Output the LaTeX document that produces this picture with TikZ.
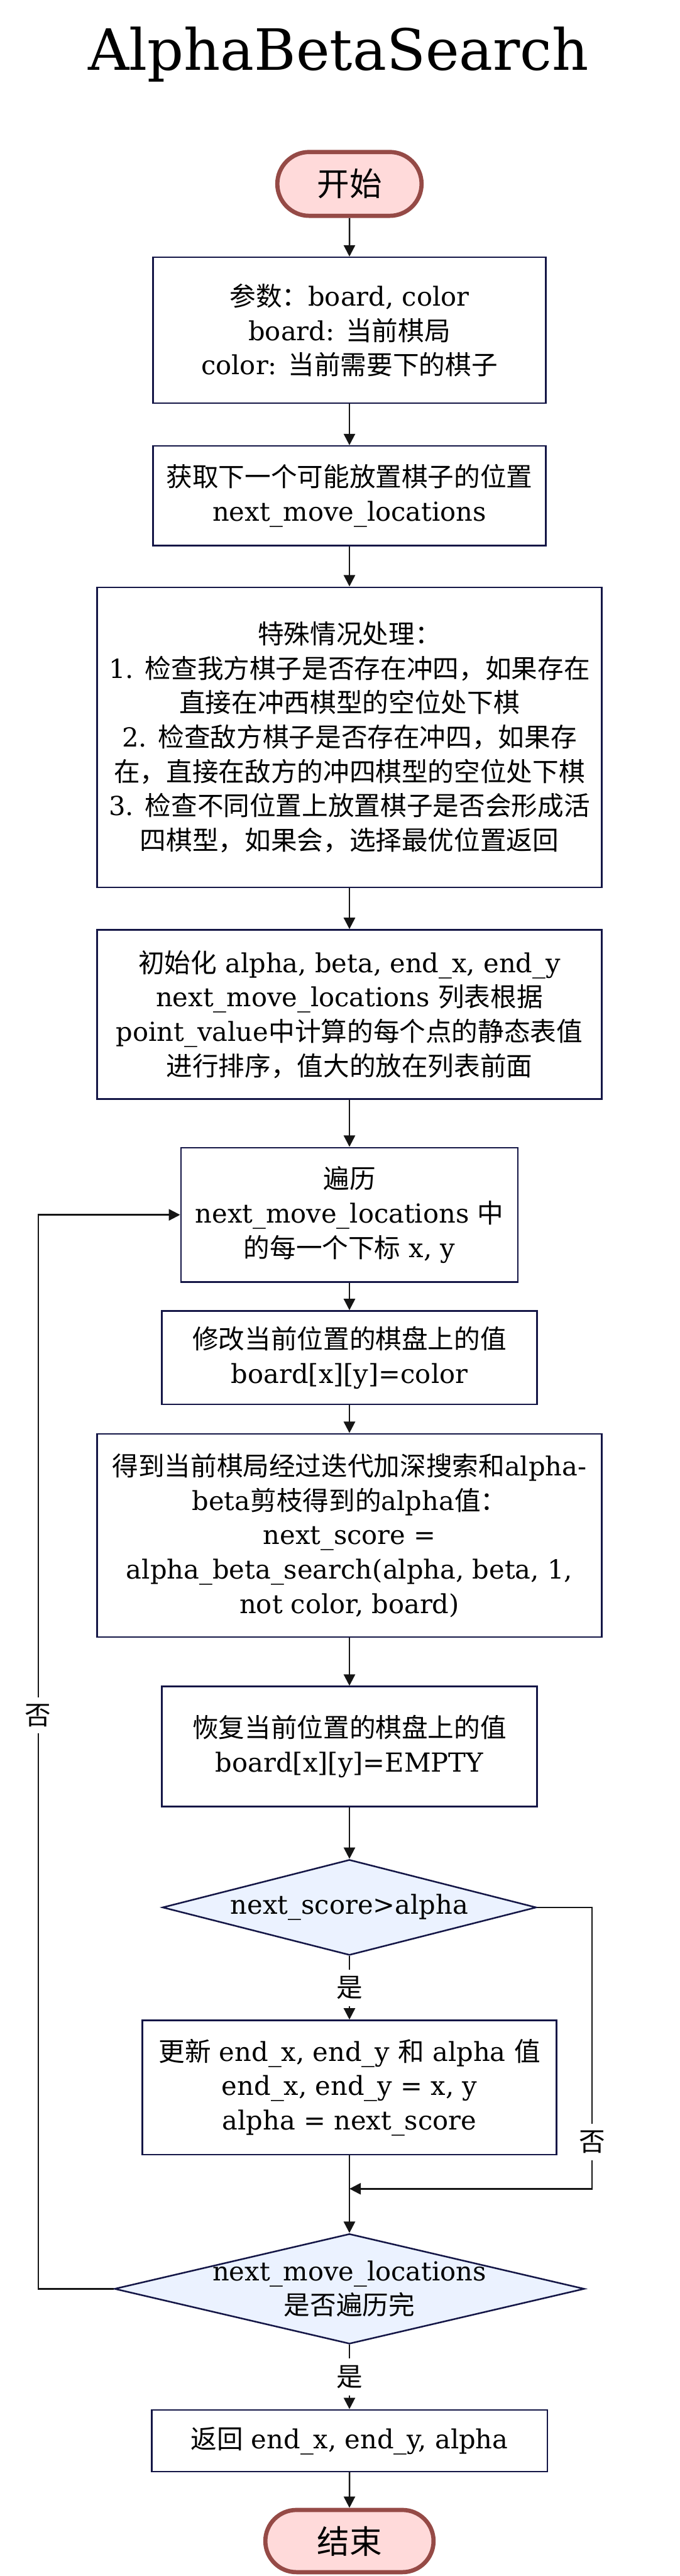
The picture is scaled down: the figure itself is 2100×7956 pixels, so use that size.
\documentclass[tikz,border=0pt]{standalone}
\usepackage{fontspec}
\setmainfont{DejaVu Serif}
\newfontfamily\cjk{Noto Sans CJK SC}
\newcommand\zh[1]{{\cjk #1}}
\usetikzlibrary{arrows.meta,shapes.geometric,shapes.misc}
\definecolor{termfill}{HTML}{FFDADA}
\definecolor{termline}{HTML}{954A46}
\definecolor{boxline}{HTML}{141646}
\definecolor{decfill}{HTML}{EBF2FF}
\definecolor{flowline}{HTML}{151515}

\begin{document}
\begin{tikzpicture}[x=0.01cm,y=-0.01cm,
  every node/.style={align=center,font=\fontsize{23}{30.2}\selectfont},
  terminal/.style={rounded rectangle,draw=termline,fill=termfill,line width=3.7pt,
    font=\fontsize{28.5}{34}\selectfont},
  process/.style={rectangle,draw=boxline,line width=1.4pt,inner sep=0pt},
  decision/.style={diamond,draw=boxline,fill=decfill,line width=1.4pt,aspect=4,
    inner xsep=0pt,inner ysep=-0.6cm},
  flow/.style={draw=flowline,line width=1.35pt,-{Triangle[length=10pt,width=10pt]}},
  branch/.style={fill=white,inner xsep=2pt,inner ysep=6pt}]
  \useasboundingbox (0,0) rectangle (2100,7956);

  \node[font=\fontsize{50}{60}\selectfont,anchor=base] (title) at (1046,217) {AlphaBetaSearch};

  \node[terminal,minimum width=4.69cm,minimum height=1.97cm] (start) at (1080,568) {\zh{开始}};
  \node[process,minimum width=12.14cm,minimum height=4.5cm] (params) at (1080,1020)
    {\zh{参数：}board, color\\board: \zh{当前棋局}\\color: \zh{当前需要下的棋子}};
  \node[process,minimum width=12.14cm,minimum height=3.07cm] (getmoves) at (1080,1531)
    {\zh{获取下一个可能放置棋子的位置}\\next\_move\_locations};
  \node[process,minimum width=15.59cm,minimum height=9.26cm] (special) at (1080,2277)
    {\zh{特殊情况处理：}\\1. \zh{检查我方棋子是否存在冲四，如果存在}\\\zh{直接在冲西棋型的空位处下棋}\\2. \zh{检查敌方棋子是否存在冲四，如果存}\\\zh{在，直接在敌方的冲四棋型的空位处下棋}\\3. \zh{检查不同位置上放置棋子是否会形成活}\\\zh{四棋型，如果会，选择最优位置返回}};
  \node[process,minimum width=15.59cm,minimum height=5.22cm] (init) at (1080,3133)
    {\zh{初始化} alpha, beta, end\_x, end\_y\\next\_move\_locations \zh{列表根据}\\point\_value\zh{中计算的每个点的静态表值}\\\zh{进行排序，值大的放在列表前面}};
  \node[process,minimum width=10.41cm,minimum height=4.15cm] (loop) at (1080,3752)
    {\zh{遍历}\\next\_move\_locations \zh{中}\\\zh{的每一个下标} x, y};
  \node[process,minimum width=11.59cm,minimum height=2.88cm] (place) at (1080,4193)
    {\zh{修改当前位置的棋盘上的值}\\board[x][y]=color};
  \node[process,minimum width=15.59cm,minimum height=6.27cm] (search) at (1080,4742)
    {\zh{得到当前棋局经过迭代加深搜索和}alpha-\\beta\zh{剪枝得到的}alpha\zh{值：}\\next\_score =\\alpha\_beta\_search(alpha, beta, 1,\\not color, board)};
  \node[process,minimum width=11.59cm,minimum height=3.7cm] (restore) at (1080,5394)
    {\zh{恢复当前位置的棋盘上的值}\\board[x][y]=EMPTY};
  \node[decision,minimum width=11.55cm,minimum height=2.95cm] (better) at (1080,5891)
    {next\_score>alpha};
  \node[process,minimum width=12.8cm,minimum height=4.14cm] (update) at (1080,6447)
    {\zh{更新} end\_x, end\_y \zh{和} alpha \zh{值}\\end\_x, end\_y = x, y\\alpha = next\_score};
  \node[decision,minimum width=14.52cm,minimum height=3.4cm] (done) at (1080,7069)
    {next\_move\_locations\\\zh{是否遍历完}};
  \node[process,minimum width=12.22cm,minimum height=1.9cm] (result) at (1080,7538)
    {\zh{返回} end\_x, end\_y, alpha};
  \node[terminal,minimum width=5.43cm,minimum height=1.92cm] (stop) at (1080,7848) {\zh{结束}};

  \coordinate (merge) at (1080,6760);
  \coordinate (rightturn) at (1830,6760);
  \coordinate (leftturn) at (118,3752);

  \draw[flow] (start) -- (params);
  \draw[flow] (params) -- (getmoves);
  \draw[flow] (getmoves) -- (special);
  \draw[flow] (special) -- (init);
  \draw[flow] (init) -- (loop);
  \draw[flow] (loop) -- (place);
  \draw[flow] (place) -- (search);
  \draw[flow] (search) -- (restore);
  \draw[flow] (restore) -- (better);
  \draw[flow] (better) -- node[branch]{\zh{是}} (update);
  \draw[flow] (update) -- (done);
  \draw[flow] (better.east) -| node[branch,pos=0.917]{\zh{否}} (rightturn) -- (merge);
  \draw[flow] (done) -- node[branch]{\zh{是}} (result);
  \draw[flow] (result) -- (stop);
  \draw[flow] (done.west) -| node[branch,pos=0.767]{\zh{否}} (leftturn) -- (loop.west);
\end{tikzpicture}
\end{document}
